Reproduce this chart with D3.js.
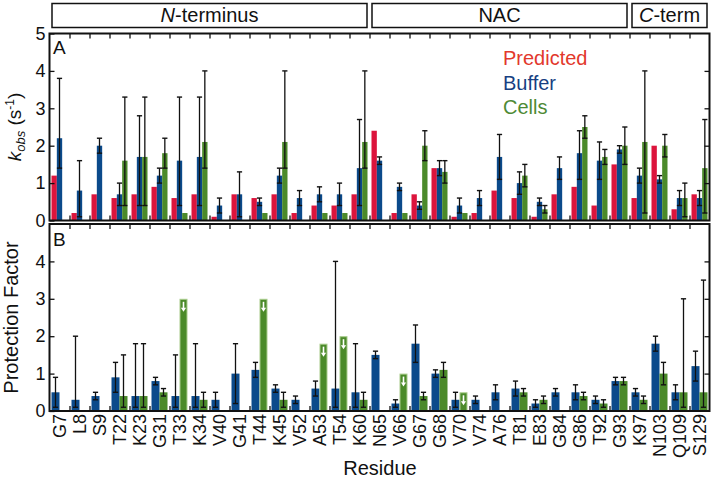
<!DOCTYPE html>
<html><head><meta charset="utf-8">
<script src="https://cdn.jsdelivr.net/npm/d3@7/dist/d3.min.js"></script>
<style>
body{margin:0;background:#fff;}
svg{display:block;font-family:"Liberation Sans",Arial,sans-serif;}
</style></head>
<body><svg id="c" width="711" height="480"></svg>
<script>
const residues = ["G7","L8","S9","T22","K23","G31","T33","K34","V40","G41","T44","K45","V52","A53","T54","K60","N65","V66","G67","G68","V70","V74","A76","T81","E83","G84","G86","T92","G93","K97","N103","Q109","S129"];
const regions = [{name:"N-terminus",italic:"N",rest:"-terminus",from:"G7",to:"K60"},{name:"NAC",italic:"",rest:"NAC",from:"N65",to:"G93"},{name:"C-term",italic:"C",rest:"-term",from:"K97",to:"S129"}];
const yTicksA = [0,1,2,3,4,5];
const yTicksB = [0,1,2,3,4];
const legendLabels = ["Predicted","Buffer","Cells"];

// Panel A: k_obs (s^-1)
const predicted = [1.2,0.2,0.7,0.6,0.7,0.9,0.6,0.7,0.1,0.7,0.6,0.7,0.2,0.4,0.4,0.7,2.4,0.2,0.7,1.4,0.1,0.2,0.8,0.6,0.1,0.7,0.9,0.4,1.5,0.6,2.0,0.3,0.7];
const buffer    = [2.2,0.8,2.0,0.7,1.7,1.2,1.6,1.7,0.4,0.7,0.5,1.2,0.6,0.7,0.7,1.4,1.6,0.9,0.4,1.4,0.4,0.6,1.7,1.0,0.5,1.4,1.8,1.6,1.9,1.2,1.1,0.6,0.6];
const bufferLo  = [1.4,0.1,1.8,0.4,0.4,1.0,0.4,0.4,0.2,0.1,0.4,1.0,0.4,0.5,0.4,0.4,1.5,0.8,0.3,1.2,0.2,0.4,1.1,0.7,0.4,1.1,1.1,1.1,1.8,1.0,1.0,0.4,0.4];
const bufferHi  = [3.8,1.6,2.2,1.0,2.8,1.4,3.3,3.3,0.6,1.3,0.6,1.4,0.8,0.9,1.0,2.7,1.7,1.0,0.5,1.6,0.6,0.8,2.3,1.3,0.6,1.7,2.4,2.1,2.0,1.4,1.2,0.8,0.8];
const cells     = [null,null,null,1.6,1.7,1.8,0.2,2.1,null,null,0.2,2.1,null,0.2,0.2,2.1,null,0.2,2.0,1.3,0.2,null,null,1.2,0.3,null,2.5,1.7,2.0,2.1,2.0,0.6,1.4];
const cellsLo   = [null,null,null,0.4,0.4,1.4,null,1.4,null,null,null,1.4,null,null,null,1.4,null,null,1.6,1.0,null,null,null,0.9,0.2,null,2.2,1.5,1.5,0.2,1.7,0.1,0.2];
const cellsHi   = [null,null,null,3.3,3.3,2.2,null,4.0,null,null,null,4.0,null,null,null,4.0,null,null,2.4,1.6,null,null,null,1.5,0.4,null,2.8,1.9,2.5,4.0,2.3,1.0,2.7];

// Panel B: protection factor
const pfBuffer   = [0.5,0.3,0.4,0.9,0.4,0.8,0.4,0.4,0.3,1.0,1.1,0.6,0.3,0.6,0.6,0.5,1.5,0.2,1.8,1.0,0.3,0.3,0.5,0.6,0.2,0.5,0.5,0.3,0.8,0.5,1.8,0.5,1.2];
const pfBufferLo = [0.1,0.1,0.3,0.5,0.1,0.7,0.1,0.1,0.1,0.2,0.9,0.5,0.2,0.4,0.1,0.1,1.4,0.1,1.3,0.9,0.1,0.2,0.3,0.4,0.1,0.4,0.3,0.2,0.7,0.4,1.6,0.3,0.8];
const pfBufferHi = [0.9,2.0,0.5,1.3,1.8,0.9,1.5,1.8,0.5,1.8,1.3,0.7,0.4,0.8,4.0,1.8,1.6,0.3,2.3,1.1,0.5,0.4,0.7,0.8,0.3,0.6,0.7,0.4,0.9,0.6,2.0,0.7,1.6];
const pfCells    = [null,null,null,0.4,0.4,0.5,3.0,0.3,null,null,3.0,0.3,null,1.8,2.0,0.3,null,1.0,0.4,1.1,0.5,null,null,0.5,0.3,null,0.4,0.2,0.8,0.3,1.0,0.5,0.5];
const pfCellsLo  = [null,null,null,0.1,0.1,0.4,null,0.1,null,null,null,0.1,null,null,null,0.1,null,null,0.3,0.9,null,null,null,0.4,0.2,null,0.3,0.1,0.7,0.2,0.7,0.1,0.1];
const pfCellsHi  = [null,null,null,1.5,1.8,0.6,null,0.5,null,null,null,0.5,null,null,null,0.5,null,null,0.5,1.3,null,null,null,0.6,0.4,null,0.5,0.3,0.9,0.4,1.3,3.0,3.5];
const pfCellsUpperLimit = [false,false,false,false,false,false,true,false,false,false,true,false,false,true,true,false,false,true,false,false,true,false,false,false,false,false,false,false,false,false,false,false,false];

const colors = {pred:"#dc143c", buf:"#0b4a8b", cell:"#4b8a2a"};
const legendColors = ["#e2382c","#173f82","#4e8a35"];

const svg = d3.select("#c");
const L = 49.5, R = 709.5;
const x = d3.scaleBand().domain(residues).range([L, R]).padding(0);
const bw = x.bandwidth();
const xIdx = d3.scaleLinear().domain([0, residues.length]).range([L, R]);
const yA = d3.scaleLinear().domain([0,5]).range([220.5, 33.5]);
const yB = d3.scaleLinear().domain([0,5]).range([411, 224]);

const inner = bw - 4;
const subA = d3.scaleBand().domain(["pred","buf","cell"]).range([2, 2+inner]);
const subB = d3.scaleBand().domain(["buf","cell"]).range([2, 2+inner]);

function errBar(g, cx, y, lo, hi){
  if (hi == null) return;
  const cw = 2.6;
  g.append("line").attr("x1",cx).attr("x2",cx).attr("y1",y(lo)).attr("y2",y(hi)).attr("stroke","#111").attr("stroke-width",1.3);
  [lo,hi].forEach(v=>g.append("line").attr("x1",cx-cw).attr("x2",cx+cw).attr("y1",y(v)).attr("y2",y(v)).attr("stroke","#111").attr("stroke-width",1.4));
}

function frame(y, labelTicks){
  const g = svg.append("g");
  g.append("g").attr("transform",`translate(${L},0)`).call(d3.axisLeft(y).tickValues(labelTicks).tickSize(-5).tickPadding(4).tickFormat(d3.format("d")))
    .call(a=>{a.select(".domain").remove(); a.selectAll("text").attr("font-size",18).attr("fill","#111").attr("font-family","Liberation Sans, Arial, sans-serif"); a.selectAll("line").attr("stroke","#111").attr("stroke-width",1.3);});
  g.append("g").attr("transform",`translate(${R},0)`).call(d3.axisRight(y).tickValues(yTicksA.slice(1,-1)).tickSize(-5).tickFormat(""))
    .call(a=>{a.select(".domain").remove(); a.selectAll("line").attr("stroke","#111").attr("stroke-width",1.3);});
  const bounds = d3.range(1, residues.length);
  g.append("g").attr("transform",`translate(0,${y.range()[1]})`).call(d3.axisTop(xIdx).tickValues(bounds).tickSize(-5).tickFormat(""))
    .call(a=>{a.select(".domain").remove(); a.selectAll("line").attr("stroke","#111").attr("stroke-width",1.3);});
  g.append("g").attr("transform",`translate(0,${y.range()[0]})`).call(d3.axisBottom(xIdx).tickValues(bounds).tickSize(-5).tickFormat(""))
    .call(a=>{a.select(".domain").remove(); a.selectAll("line").attr("stroke","#111").attr("stroke-width",1.3);});
  return g;
}

// Panel A bars
const gA = svg.append("g");
residues.forEach((r,i)=>{
  const x0 = x(r);
  gA.append("rect").attr("x",x0+subA("pred")).attr("width",subA.bandwidth()).attr("y",yA(predicted[i])).attr("height",yA(0)-yA(predicted[i])).attr("fill",colors.pred);
  gA.append("rect").attr("x",x0+subA("buf")).attr("width",subA.bandwidth()).attr("y",yA(buffer[i])).attr("height",yA(0)-yA(buffer[i])).attr("fill",colors.buf);
  if (cells[i]!=null) gA.append("rect").attr("x",x0+subA("cell")).attr("width",subA.bandwidth()).attr("y",yA(cells[i])).attr("height",yA(0)-yA(cells[i])).attr("fill",colors.cell);
});
residues.forEach((r,i)=>{
  const x0 = x(r), w = subA.bandwidth();
  errBar(gA, x0+subA("buf")+w/2, yA, bufferLo[i], bufferHi[i]);
  if (cells[i]!=null) errBar(gA, x0+subA("cell")+w/2, yA, cellsLo[i], cellsHi[i]);
});

// Panel B bars
const gB = svg.append("g");
residues.forEach((r,i)=>{
  const x0 = x(r), w = subB.bandwidth();
  gB.append("rect").attr("x",x0+subB("buf")).attr("width",w).attr("y",yB(pfBuffer[i])).attr("height",yB(0)-yB(pfBuffer[i])).attr("fill",colors.buf);
  if (pfCells[i]!=null){
    const rc = gB.append("rect").attr("x",x0+subB("cell")).attr("width",w).attr("y",yB(pfCells[i])).attr("height",yB(0)-yB(pfCells[i])).attr("fill",colors.cell);
    if (pfCellsUpperLimit[i]){
      rc.attr("x",x0+subB("cell")+0.5).attr("width",w-1).attr("y",yB(pfCells[i])+0.5).attr("height",yB(0)-yB(pfCells[i])-0.5).attr("stroke","#a9cc8c").attr("stroke-width",1);
      const cx = x0+subB("cell")+w/2, ty = yB(pfCells[i]);
      gB.append("line").attr("x1",cx).attr("x2",cx).attr("y1",ty+3).attr("y2",ty+10).attr("stroke","#fff").attr("stroke-width",1.6);
      gB.append("path").attr("d",`M${cx-2.6},${ty+9} L${cx+2.6},${ty+9} L${cx},${ty+13} Z`).attr("fill","#fff");
    }
  }
});
residues.forEach((r,i)=>{
  const x0 = x(r), w = subB.bandwidth();
  errBar(gB, x0+subB("buf")+w/2, yB, pfBufferLo[i], pfBufferHi[i]);
  if (pfCells[i]!=null && !pfCellsUpperLimit[i]) errBar(gB, x0+subB("cell")+w/2, yB, pfCellsLo[i], pfCellsHi[i]);
});

frame(yA, yTicksA); frame(yB, yTicksB);
svg.append("rect").attr("x",L).attr("y",yA(5)).attr("width",R-L).attr("height",yA(0)-yA(5)).attr("fill","none").attr("stroke","#111").attr("stroke-width",2);
svg.append("rect").attr("x",L).attr("y",yB(5)).attr("width",R-L).attr("height",yB(0)-yB(5)).attr("fill","none").attr("stroke","#111").attr("stroke-width",2);

// x tick labels (rotated)
svg.append("g").attr("transform",`translate(0,${yB(0)})`).call(d3.axisBottom(x).tickSize(0).tickPadding(0))
  .call(a=>{a.select(".domain").remove();
    a.selectAll("text").attr("font-size",18).attr("fill","#111").attr("font-family","Liberation Sans, Arial, sans-serif")
      .attr("text-anchor","end").attr("transform","rotate(-90)").attr("x",-3).attr("y",0).attr("dy","0.36em");});

// region header boxes
regions.forEach(rg=>{
  const x1 = x(rg.from)+2.5, x2 = x(rg.to)+bw-2.5;
  svg.append("rect").attr("x",x1).attr("y",3.5).attr("width",x2-x1).attr("height",24).attr("fill","none").attr("stroke","#111").attr("stroke-width",1.5);
  const t = svg.append("text").attr("x",(x1+x2)/2).attr("y",22).attr("text-anchor","middle").attr("font-size",20).attr("fill","#111");
  if (rg.italic) t.append("tspan").attr("font-style","italic").text(rg.italic);
  t.append("tspan").text(rg.rest);
});

// panel letters
svg.append("text").attr("x",53).attr("y",54).attr("font-size",19).attr("fill","#111").text("A");
svg.append("text").attr("x",53).attr("y",246).attr("font-size",19).attr("fill","#111").text("B");

// legend
legendLabels.forEach((lab,i)=>{
  svg.append("text").attr("x",503).attr("y",65+i*24.5).attr("font-size",20).attr("fill",legendColors[i]).text(lab);
});

// axis titles
const yt = svg.append("text").attr("transform",`translate(21,${(yA(0)+yA(5))/2}) rotate(-90)`).attr("text-anchor","middle").attr("font-size",19).attr("fill","#111");
yt.append("tspan").attr("font-style","italic").text("k");
yt.append("tspan").attr("font-style","italic").attr("font-size",13).attr("dy",4).text("obs");
yt.append("tspan").attr("dy",-4).text(" (s");
yt.append("tspan").attr("font-size",12).attr("dy",-7).text("-1");
yt.append("tspan").attr("dy",7).text(")");
svg.append("text").attr("transform",`translate(18,${(yB(0)+yB(5))/2}) rotate(-90)`).attr("text-anchor","middle").attr("font-size",20).attr("fill","#111").text("Protection Factor");
svg.append("text").attr("x",380).attr("y",475).attr("text-anchor","middle").attr("font-size",20).attr("fill","#111").text("Residue");
</script></body></html>
